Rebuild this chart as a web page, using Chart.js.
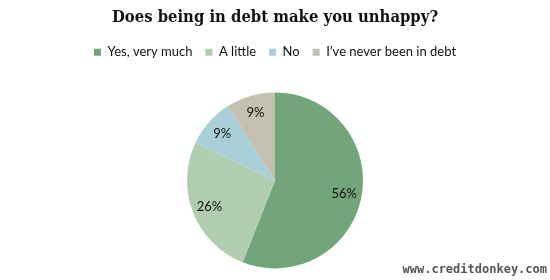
<!DOCTYPE html>
<html>
<head>
<meta charset="utf-8">
<script src="https://cdn.jsdelivr.net/npm/chart.js@4"></script>
<style>
  html, body { margin: 0; padding: 0; background: #fff; }
  #wrap { width: 550px; height: 280px; }
</style>
</head>
<body>
<div id="wrap"><canvas id="myChart" width="550" height="280"></canvas></div>
<script>
const labels = ["Yes, very much", "A little", "No", "I\u2019ve never been in debt"]
const values = [56, 26, 9, 9]
const colors = ["#73a57b", "#b1cdb0", "#a9d0d8", "#c3bfb1"]
const titleText = "Does being in debt make you unhappy?"
const watermark = "www.creditdonkey.com"

// extra room under the legend so the pie sits lower
const legendGap = {
  id: "legendGap",
  beforeInit(chart) {
    const legend = chart.legend
    const fit = legend.fit
    legend.fit = function () {
      fit.call(legend)
      this.height += 12
    }
  }
}

// percentage labels inside each slice
const sliceLabels = {
  id: "sliceLabels",
  afterDatasetsDraw(chart) {
    const ctx = chart.ctx
    const meta = chart.getDatasetMeta(0)
    ctx.save()
    ctx.font = "13px Lato"
    ctx.fillStyle = "#111"
    ctx.textAlign = "center"
    ctx.textBaseline = "middle"
    meta.data.forEach((arc, i) => {
      const p = arc.getProps(["x", "y", "startAngle", "endAngle", "outerRadius"], true)
      const mid = (p.startAngle + p.endAngle) / 2
      const d = p.outerRadius * 0.8
      ctx.fillText(values[i] + "%", p.x + Math.cos(mid) * d, p.y + Math.sin(mid) * d)
    })
    ctx.restore()
  }
}

const siteMark = {
  id: "siteMark",
  afterDraw(chart) {
    const ctx = chart.ctx
    ctx.save()
    ctx.font = "bold 12px 'DejaVu Sans Mono'"
    ctx.fillStyle = "#555"
    ctx.textAlign = "right"
    ctx.textBaseline = "middle"
    ctx.fillText(watermark, 547, 270)
    ctx.restore()
  }
}

new Chart(document.getElementById("myChart"), {
  type: "pie",
  data: {
    labels,
    datasets: [{
      data: values,
      backgroundColor: colors,
      borderWidth: 0
    }]
  },
  options: {
    responsive: false,
    animation: false,
    radius: 88,
    layout: { padding: { bottom: 0 } },
    plugins: {
      title: {
        display: true,
        text: titleText,
        color: "#111",
        font: { family: "'DejaVu Serif Condensed', 'DejaVu Serif'", size: 16.5, weight: "bold" },
        padding: { top: 8, bottom: 5 }
      },
      legend: {
        position: "top",
        labels: {
          boxWidth: 7,
          boxHeight: 7,
          padding: 13,
          color: "#111",
          font: { family: "Lato", size: 13 }
        }
      },
      tooltip: { enabled: false }
    }
  },
  plugins: [legendGap, sliceLabels, siteMark]
})
</script>
</body>
</html>
